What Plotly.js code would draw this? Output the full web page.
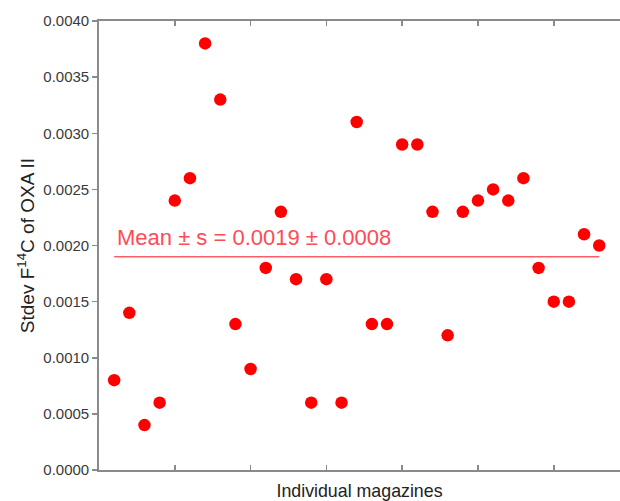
<!DOCTYPE html>
<html>
<head>
<meta charset="utf-8">
<script src="https://cdn.plot.ly/plotly-3.0.1.min.js"></script>
<style>
html,body{margin:0;padding:0;background:#fff;overflow:hidden;}
#chart{width:620px;height:501px;}
</style>
</head>
<body>
<div id="chart"></div>
<script>
// Data
const magazines = [1,2,3,4,5,6,7,8,9,10,11,12,13,14,15,16,17,18,19,20,21,22,23,24,25,26,27,28,29,30,31,32,33];
const stdevValues = [0.0008,0.0014,0.0004,0.0006,0.0024,0.0026,0.0038,0.0033,0.0013,0.0009,
                     0.0018,0.0023,0.0017,0.0006,0.0017,0.0006,0.0031,0.0013,0.0013,0.0029,
                     0.0029,0.0023,0.0012,0.0023,0.0024,0.0025,0.0024,0.0026,0.0018,0.0015,
                     0.0015,0.0021,0.0020];
const meanValue = 0.0019;
const sdValue = 0.0008;
const yTickVals = [0,0.0005,0.001,0.0015,0.002,0.0025,0.003,0.0035,0.004];
const yTickText = ["0.0000","0.0005","0.0010","0.0015","0.0020","0.0025","0.0030","0.0035","0.0040"];
const xTickVals = [5,10,15,20,25,30];

const font = "Liberation Sans, Arial, sans-serif";
const axisCol = "#8a8a8a";
const textCol = "#3a3a3a";

const traces = [
  {
    x: [magazines[0], magazines[magazines.length-1]],
    y: [meanValue, meanValue],
    mode: "lines",
    line: {color: "#ff5c66", width: 1.6},
    hoverinfo: "skip",
    showlegend: false
  },
  {
    x: magazines,
    y: stdevValues,
    mode: "markers",
    marker: {color: "#ff0000", size: 12.5},
    showlegend: false
  }
];

const layout = {
  width: 620,
  height: 501,
  margin: {l: 99, r: 0, t: 21, b: 31, pad: 0},
  paper_bgcolor: "#ffffff",
  plot_bgcolor: "#ffffff",
  showlegend: false,
  xaxis: {
    range: [0, 34.37],
    tickvals: xTickVals,
    showticklabels: false,
    ticks: "inside",
    ticklen: 5,
    tickwidth: 1.5,
    tickcolor: axisCol,
    showline: true,
    linecolor: axisCol,
    linewidth: 1.8,
    mirror: "ticks",
    showgrid: false,
    zeroline: false,
    title: {text: "Individual magazines", font: {family: font, size: 17.8, color: "#222"}, standoff: 14}
  },
  yaxis: {
    range: [0, 0.004],
    tickvals: yTickVals,
    ticktext: yTickText,
    ticks: "outside",
    ticklen: 5,
    tickwidth: 1.5,
    tickcolor: axisCol,
    showline: true,
    linecolor: axisCol,
    linewidth: 1.8,
    mirror: false,
    showgrid: false,
    zeroline: false,
    tickfont: {family: font, size: 15, color: textCol},
    title: {text: "Stdev F<sup>14</sup>C of OXA II", font: {family: font, size: 19, color: "#222"}, standoff: 4}
  },
  annotations: [
    {
      x: magazines[0],
      y: meanValue,
      xref: "x",
      yref: "y",
      xanchor: "left",
      yanchor: "bottom",
      yshift: 5,
      xshift: 1,
      showarrow: false,
      text: "Mean \u00b1 s = " + meanValue.toFixed(4) + " \u00b1 " + sdValue.toFixed(4),
      font: {family: font, size: 22, color: "#ff4a58"}
    }
  ]
};

Plotly.newPlot("chart", traces, layout, {displayModeBar: false, staticPlot: true});
</script>
</body>
</html>
